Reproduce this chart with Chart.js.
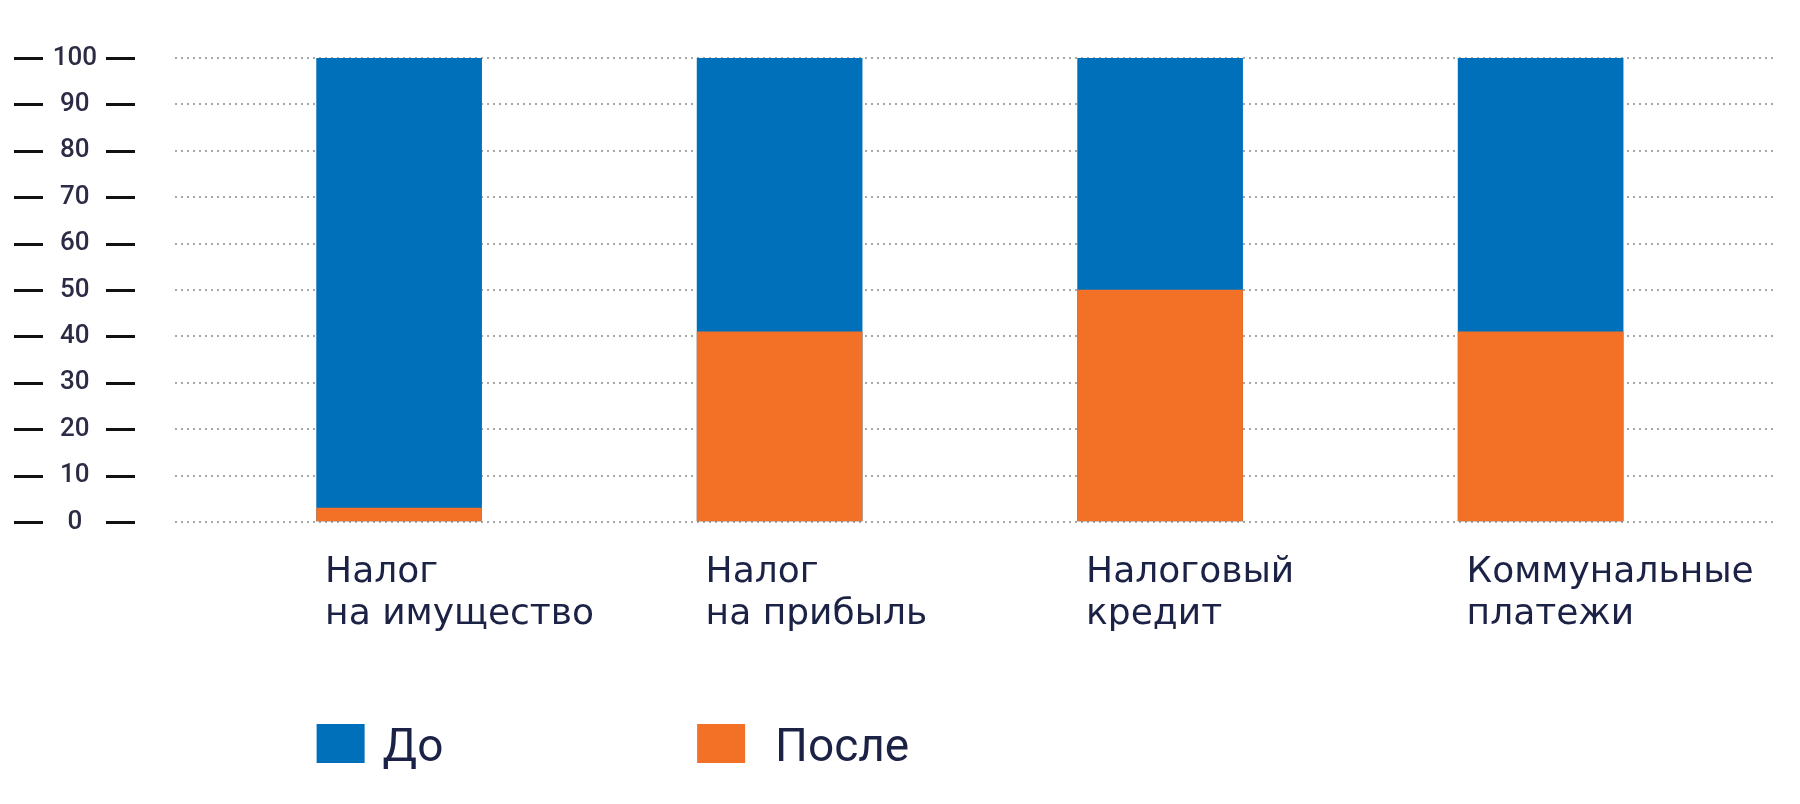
<!DOCTYPE html>
<html><head><meta charset="utf-8">
<script src="https://cdn.jsdelivr.net/npm/chart.js@4.4.1/dist/chart.umd.min.js"></script>
<style>html,body{margin:0;padding:0;background:#fff;overflow:hidden}#wrap{width:1800px;height:804px;position:relative}canvas{display:block}</style>
</head><body><div id="wrap"><canvas id="c" width="1800" height="804"></canvas></div>
<script>
// ---- data ----
const categories = [['Налог', 'на имущество'], ['Налог', 'на прибыль'], ['Налоговый', 'кредит'], ['Коммунальные', 'платежи']];
const seriesNames = ['До', 'После'];
const beforeValues = [100, 100, 100, 100];
const afterValues = [3, 41, 50, 41];
const yTickValues = [0, 10, 20, 30, 40, 50, 60, 70, 80, 90, 100];

// ---- style ----
const BLUE = '#0070ba';
const ORANGE = '#f27127';
const TEXT = '#1c2245';

const tickDashes = {
  id: 'tickDashes',
  afterDraw(chart) {
    const y = chart.scales.y, ctx = chart.ctx;
    ctx.save();
    ctx.strokeStyle = '#111';
    ctx.lineWidth = 3;
    y.ticks.forEach(t => {
      const py = Math.round(y.getPixelForValue(t.value)) + 0.5;
      ctx.beginPath();
      ctx.moveTo(14, py); ctx.lineTo(43, py);
      ctx.moveTo(106, py); ctx.lineTo(135, py);
      ctx.stroke();
    });
    ctx.restore();
  }
};

const barLegend = {
  id: 'barLegend',
  afterDraw(chart) {
    const ctx = chart.ctx;
    const gaps = [18, 30];
    ctx.save();
    chart.data.datasets.forEach((ds, i) => {
      const el = chart.getDatasetMeta(i).data[i];
      const left = el.x - el.width / 2;
      ctx.fillStyle = ds.backgroundColor;
      ctx.fillRect(left, 724, 48, 39);
      ctx.fillStyle = TEXT;
      ctx.font = '400 46px Roboto';
      ctx.textBaseline = 'alphabetic';
      ctx.textAlign = 'left';
      ctx.fillText(ds.label, left + 48 + gaps[i], 761);
    });
    ctx.restore();
  }
};

new Chart(document.getElementById('c'), {
  type: 'bar',
  data: {
    datasets: [
      { label: seriesNames[0], data: beforeValues.map((v, i) => ({ x: i, y: v })), backgroundColor: BLUE, order: 1, barThickness: 165 },
      { label: seriesNames[1], data: afterValues.map((v, i) => ({ x: i, y: v })), backgroundColor: ORANGE, order: 0, barThickness: 165 }
    ]
  },
  options: {
    responsive: false,
    animation: false,
    devicePixelRatio: 1,
    layout: { padding: { top: 58, right: 25, left: 0, bottom: 0 } },
    plugins: { legend: { display: false }, tooltip: { enabled: false } },
    scales: {
      x: {
        type: 'linear', stacked: true, offset: false, min: -0.589, max: 3.616,
        afterBuildTicks: s => { s.ticks = categories.map((c, i) => ({ value: i })); },
        afterFit: s => { s.height = 282; s.paddingLeft = 0; s.paddingRight = 0; },
        grid: { display: false, drawTicks: false, offset: false },
        border: { display: false },
        ticks: {
          stepSize: 1,
          callback: v => categories[v],
          align: 'start', labelOffset: -74, padding: 30,
          maxRotation: 0, autoSkip: false,
          font: { family: 'DejaVu Sans', size: 36, lineHeight: 1.167 },
          color: TEXT
        }
      },
      y: {
        min: 0, max: 100, stacked: false,
        afterBuildTicks: s => { s.ticks = yTickValues.map(v => ({ value: v })); },
        afterFit: s => { s.width = 175; s.paddingTop = 0; s.paddingBottom = 0; },
        ticks: {
          crossAlign: 'center', padding: 78,
          font: { family: 'Roboto', size: 26, weight: '500' },
          color: '#2b2b45'
        },
        grid: { color: '#a8a8a8', lineWidth: 2, drawTicks: false },
        border: { display: false, dash: [2, 4] }
      }
    }
  },
  plugins: [tickDashes, barLegend]
});
</script></body></html>
